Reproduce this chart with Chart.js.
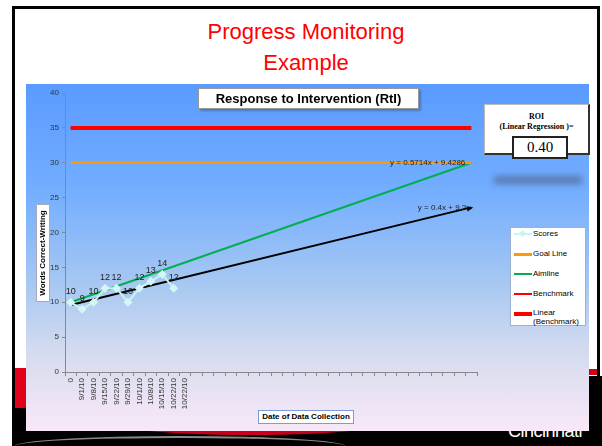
<!DOCTYPE html>
<html>
<head>
<meta charset="utf-8">
<script src="https://cdn.jsdelivr.net/npm/chart.js@4"></script>
<style>
  body { margin: 0; width: 602px; height: 446px; overflow: hidden; position: relative; background: #fff; font-family: "Liberation Sans", Arial, sans-serif; }
  .frame { position: absolute; left: 12px; top: 6px; width: 588px; height: 460px; border: 3px solid #000; box-sizing: border-box; }
  .slide-title { position: absolute; left: 15px; top: 16px; width: 582px; text-align: center; color: #ff0000; font-size: 22px; line-height: 31px; }
  .band { position: absolute; left: 12px; top: 376px; width: 590px; height: 70px; background: #000; }
  .swoosh-l { position: absolute; left: 15px; top: 368px; width: 30px; height: 40px; background: #e0001b; border-radius: 0 0 70% 0 / 0 0 100% 0; }
  .swoosh-b { position: absolute; left: 90px; top: 400px; width: 320px; height: 35px; background: #c8001a; border-radius: 50%; }
  .swoosh-r { position: absolute; left: 585px; top: 369px; width: 12px; height: 6px; background: #d0001a; }
  .curve { position: absolute; left: 15px; top: 436px; width: 330px; height: 10px; border-top: 2px solid #8a8a8a; border-radius: 60% 60% 0 0 / 100% 100% 0 0; }
  .city { position: absolute; left: 508px; top: 421px; color: #fff; font-size: 18px; letter-spacing: -0.5px; }
  .wrap { position: absolute; left: 26px; top: 84px; width: 563px; height: 347px; z-index: 2;
          background: linear-gradient(#5a9bff 0%, #72adff 30%, #a8c8f2 58%, #d6dcef 78%, #f9e8f7 100%); }
  .box { position: absolute; background: #fff; z-index: 3; }
  .ctitle { left: 198px; top: 88px; width: 219px; height: 19px; border: 1px solid #999; box-shadow: 2px 2px 2px rgba(0,0,0,0.25);
            font-weight: bold; font-size: 13px; line-height: 19px; text-align: center; }
  .ytitle { left: -6px; top: 246px; width: 96px; height: 12px; border: 1px solid #aab; transform: rotate(-90deg);
            font-weight: bold; font-size: 8px; line-height: 12px; text-align: center; }
  .xtitle { left: 258px; top: 410px; width: 94px; height: 12px; border: 1px solid #7a9cd8;
            font-weight: bold; font-size: 8px; line-height: 12px; text-align: center; }
  .roi { left: 484px; top: 104px; width: 103px; height: 48px; border: 1px solid #bbb; border-right: 2px solid #333; border-bottom: 2px solid #333;
         font-family: "Liberation Serif", "DejaVu Serif", serif; font-weight: bold; font-size: 8px; text-align: center; line-height: 10px; }
  .roi .t { padding-top: 7px; }
  .roi .v { position: absolute; left: 27px; top: 31px; width: 52px; height: 19px; border: 2px solid #222; background: #fff;
            font-weight: normal; font-size: 15px; line-height: 19px; }
  .blur { position: absolute; left: 494px; top: 176px; width: 88px; height: 8px; background: rgba(70,80,110,0.55); filter: blur(3px); z-index: 3; }
  .legend { left: 510px; top: 227px; width: 74px; height: 97px; border: 1px solid #9db0d0; font-size: 8px; }
  .legend .item { position: absolute; left: 3px; width: 72px; }
  .legend .ln { position: absolute; left: 0; width: 18px; }
  .legend .tx { position: absolute; left: 19px; line-height: 9px; }
</style>
</head>
<body>
<div class="frame"></div>
<div class="slide-title">Progress Monitoring<br>Example</div>
<div class="band"></div>
<div class="swoosh-l"></div>
<div class="swoosh-b"></div>
<div class="swoosh-r"></div>
<div class="curve"></div>
<div class="city">Cincinnati</div>

<div class="wrap"><canvas id="rtiChart"></canvas></div>
<div class="box ctitle">Response to Intervention (RtI)</div>
<div class="box ytitle">Words Correct-Writing</div>
<div class="box xtitle">Date of Data Collection</div>
<div class="box roi"><div class="t">ROI<br>(Linear Regression )=</div><div class="v">0.40</div></div>
<div class="blur"></div>
<div class="box legend" id="legend"></div>

<script>
const dates = ['0', '9/1/10', '9/8/10', '9/15/10', '9/22/10', '9/29/10', '10/1/10', '10/8/10', '10/15/10', '10/22/10', '10/22/10'];
const slotCount = 36;
const scores = [10, 9, 10, 12, 12, 10, 12, 13, 14, 12];
const goalLine = [30, 30];
const aimline = [10, 30];
const benchmark = [35, 35];
const trendScores = [9.6, 23.6];
const yTicks = [0, 5, 10, 15, 20, 25, 30, 35, 40];
const aimEquation = 'y = 0.5714x + 9.4286';
const trendEquation = 'y = 0.4x + 9.2';

const labels = dates.concat(new Array(slotCount - dates.length).fill(''));

function ends(pair) {
  const arr = new Array(slotCount).fill(null);
  arr[0] = pair[0];
  arr[slotCount - 1] = pair[1];
  return arr;
}
const scoreData = scores.concat(new Array(slotCount - scores.length).fill(null));

const overlayPlugin = {
  id: 'overlay',
  afterDatasetsDraw(chart) {
    const ctx = chart.ctx;
    ctx.save();
    // score labels
    const sMeta = chart.getDatasetMeta(0);
    ctx.font = '9px "Liberation Sans", Arial, sans-serif';
    ctx.fillStyle = '#222';
    ctx.textAlign = 'center';
    ctx.textBaseline = 'middle';
    sMeta.data.forEach((pt, i) => {
      if (scoreData[i] == null) return;
      ctx.fillText(String(scoreData[i]), pt.x, pt.y - 11);
    });
    // arrow on trend line
    const tMeta = chart.getDatasetMeta(5);
    const a = tMeta.data[0], b = tMeta.data[slotCount - 1];
    const ang = Math.atan2(b.y - a.y, b.x - a.x);
    ctx.fillStyle = '#000';
    ctx.beginPath();
    ctx.moveTo(b.x + 2, b.y);
    ctx.lineTo(b.x + 2 - 7 * Math.cos(ang - 0.4), b.y - 7 * Math.sin(ang - 0.4));
    ctx.lineTo(b.x + 2 - 7 * Math.cos(ang + 0.4), b.y - 7 * Math.sin(ang + 0.4));
    ctx.closePath();
    ctx.fill();
    // equations
    ctx.font = '8px "Liberation Sans", Arial, sans-serif';
    ctx.fillStyle = '#222';
    ctx.textAlign = 'right';
    const aEnd = chart.getDatasetMeta(2).data[slotCount - 1];
    ctx.fillText(aimEquation, aEnd.x - 6, aEnd.y);
    ctx.fillText(trendEquation, b.x - 5, b.y);
    ctx.restore();
  }
};

const ctx = document.getElementById('rtiChart').getContext('2d');
const rtiChart = new Chart(ctx, {
  type: 'line',
  data: {
    labels: labels,
    datasets: [
      { label: 'Scores', data: scoreData, borderColor: '#c9f3f0', backgroundColor: '#d2f7f4', borderWidth: 2,
        pointStyle: 'rectRot', pointRadius: 4.5, pointBorderWidth: 0, spanGaps: false },
      { label: 'Goal Line', data: ends(goalLine), borderColor: '#ff9a00', borderWidth: 2.5, pointRadius: 0, spanGaps: true },
      { label: 'Aimline', data: ends(aimline), borderColor: '#00b050', borderWidth: 2, pointRadius: 0, spanGaps: true },
      { label: 'Benchmark', data: ends(benchmark), borderColor: '#ff0000', borderWidth: 1.5, pointRadius: 0, spanGaps: true },
      { label: 'Linear (Benchmark)', data: ends(benchmark), borderColor: '#ff0000', borderWidth: 4, pointRadius: 0, spanGaps: true },
      { label: 'Linear (Scores)', data: ends(trendScores), borderColor: '#000', borderWidth: 2, pointRadius: 0, spanGaps: true }
    ]
  },
  options: {
    responsive: true,
    maintainAspectRatio: false,
    animation: false,
    layout: { padding: { top: 9, right: 112, left: 0, bottom: 0 } },
    scales: {
      x: {
        offset: true,
        grid: { offset: true, drawOnChartArea: false, tickLength: 4, color: '#888' },
        border: { color: '#888', width: 1 },
        ticks: { autoSkip: false, maxRotation: 90, minRotation: 90, padding: 2, color: '#333',
                 font: { size: 8, family: '"Liberation Sans", Arial, sans-serif' } },
        afterFit(scale) { scale.height = 59; }
      },
      y: {
        min: 0,
        max: 40,
        afterBuildTicks(scale) { scale.ticks = yTicks.map(v => ({ value: v })); },
        grid: { drawOnChartArea: false, tickLength: 3, color: '#888' },
        border: { color: '#888', width: 1 },
        ticks: { padding: 3, color: '#333', font: { size: 8, family: '"Liberation Sans", Arial, sans-serif' } },
        afterFit(scale) { scale.width = 39; }
      }
    },
    plugins: {
      legend: { display: false },
      tooltip: { enabled: false }
    }
  },
  plugins: [overlayPlugin]
});

// legend box built from the chart's datasets (trend of scores is not listed)
const legendEl = document.getElementById('legend');
const rows = [5, 25, 45, 65, 84];
rtiChart.data.datasets.slice(0, 5).forEach((ds, i) => {
  const item = document.createElement('div');
  item.className = 'item';
  item.style.top = rows[i] + 'px';
  const ln = document.createElement('div');
  ln.className = 'ln';
  ln.style.top = '0px';
  ln.style.borderTop = Math.round(ds.borderWidth) + 'px solid ' + ds.borderColor;
  if (i === 0) {
    const d = document.createElement('div');
    d.style.cssText = 'position:absolute;left:6px;top:-4px;width:5px;height:5px;background:#c9f3f0;transform:rotate(45deg);';
    ln.appendChild(d);
  }
  const tx = document.createElement('div');
  tx.className = 'tx';
  tx.style.top = '-4px';
  tx.innerHTML = ds.label === 'Linear (Benchmark)' ? 'Linear<br>(Benchmark)' : ds.label;
  item.appendChild(ln);
  item.appendChild(tx);
  legendEl.appendChild(item);
});
</script>
</body>
</html>
